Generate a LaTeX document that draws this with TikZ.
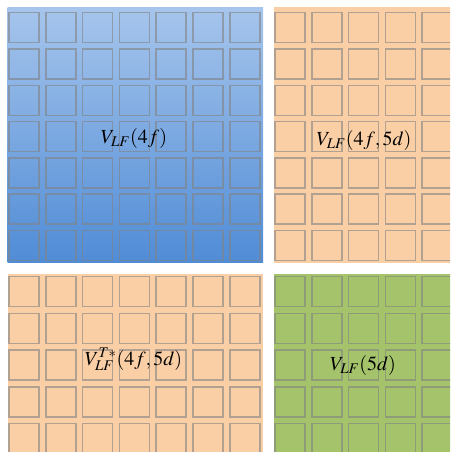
\documentclass[tikz,border=0pt]{standalone}
\usepackage{mathptmx}
\usepackage{fontspec}
\setmainfont{Liberation Serif}
\definecolor{blauoben}{RGB}{166,197,236}
\definecolor{blauunten}{RGB}{80,140,214}
\definecolor{orange}{RGB}{251,207,166}
\definecolor{gruen}{RGB}{164,195,106}
\definecolor{rand}{RGB}{130,130,130}
\tikzset{
    kaestchen/.style={draw=rand, draw opacity=0.6, line width=1.5pt},
    beschriftung/.style={anchor=base, inner sep=0pt, font=\fontsize{20}{24}\selectfont}
}
\begin{document}
\begin{tikzpicture}[x=1pt, y=-1pt]
\useasboundingbox (0,0) rectangle (450,452);
\clip (0,0) rectangle (450,452);

% Bloecke
\coordinate (A1) at (7.5,8);     \coordinate (A2) at (263,262.5);
\coordinate (B1) at (273.5,7);   \coordinate (B2) at (460,262.5);
\coordinate (C1) at (7.5,273.5); \coordinate (C2) at (263,460);
\coordinate (D1) at (273.5,273.5); \coordinate (D2) at (460,460);

\shade[top color=blauoben, bottom color=blauunten] (A1) rectangle (A2);
\fill[orange] (B1) rectangle (B2);
\fill[orange] (C1) rectangle (C2);
\fill[gruen]  (D1) rectangle (D2);

% Kaestchen
\foreach \i in {0,...,6}
  \foreach \j in {0,...,6}
    \draw[kaestchen] ({9+36.8*\i},{12.7+36.3*\j}) rectangle ++(30,30);
\foreach \i in {0,...,4}
  \foreach \j in {0,...,6}
    \draw[kaestchen] ({275+36.8*\i},{12.7+36.3*\j}) rectangle ++(30,30);
\foreach \i in {0,...,6}
  \foreach \j in {0,...,4}
    \draw[kaestchen] ({9+36.8*\i},{276.7+36.7*\j}) rectangle ++(30,30);
\foreach \i in {0,...,4}
  \foreach \j in {0,...,4}
    \draw[kaestchen] ({275+36.8*\i},{276.7+36.7*\j}) rectangle ++(30,30);

% Beschriftungen
\node[beschriftung] (vf)   at (134,143)   {$V_{LF}(4f)$};
\node[beschriftung] (vfd)  at (364,145)   {$V_{LF}(4f,5d)$};
\node[beschriftung] (vfdt) at (133.5,365) {$V_{LF}^{T*}(4f,5d)$};
\node[beschriftung] (vd)   at (363,370)   {$V_{LF}(5d)$};
\end{tikzpicture}
\end{document}
